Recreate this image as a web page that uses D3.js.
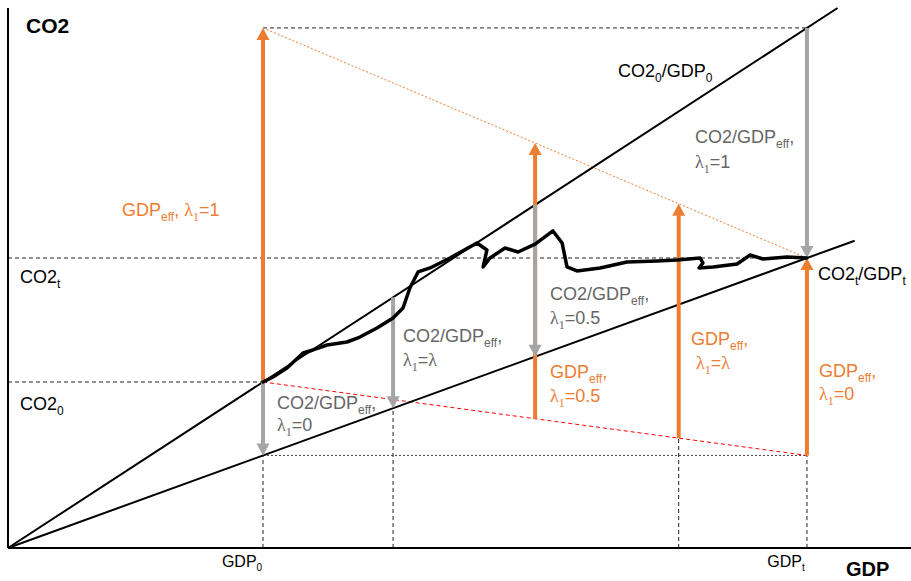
<!DOCTYPE html>
<html>
<head>
<meta charset="utf-8">
<script src="https://cdn.jsdelivr.net/npm/d3@7"></script>
<style>
  html, body { margin: 0; padding: 0; background: #fff; }
  svg { display: block; font-family: "Liberation Sans", Arial, sans-serif; }
</style>
</head>
<body>
<svg id="chart" width="911" height="581"></svg>
<script>
// ---------------- data ----------------
// GDP and CO2 in units of the base year (GDP0 = 1, CO2_0 = 1)
const gdpTickLabels = ["GDP0", "GDPt"];
const gdpTicks = [1.0, 3.133];          // GDP0, GDPt
const co2Ticks = [1.0, 1.747];          // CO2_0, CO2_t
const grayArrowGdp = [1.0, 1.51, 2.067, 3.133];   // CO2/GDP_eff arrows
const orangeArrowGdp = [1.0, 2.067, 2.63, 3.133]; // GDP_eff arrows
// observed emission path (GDP, CO2)
const pathGdp = [1.0, 1.039, 1.094, 1.157, 1.196, 1.251, 1.329, 1.380, 1.447, 1.510, 1.549, 1.576, 1.608, 1.655, 1.733, 1.839, 1.878, 1.863, 1.890, 1.949, 2.000, 2.067, 2.137, 2.173, 2.192, 2.231, 2.322, 2.427, 2.545, 2.624, 2.714, 2.725, 2.710, 2.765, 2.859, 2.910, 2.961, 3.055, 3.133];
const pathCo2 = [1.0, 1.030, 1.084, 1.175, 1.193, 1.223, 1.241, 1.271, 1.325, 1.386, 1.446, 1.566, 1.663, 1.687, 1.747, 1.837, 1.795, 1.693, 1.747, 1.807, 1.783, 1.831, 1.910, 1.837, 1.693, 1.669, 1.687, 1.723, 1.729, 1.735, 1.747, 1.717, 1.687, 1.693, 1.711, 1.765, 1.741, 1.753, 1.747];

// ---------------- setup ----------------
const svg = d3.select("#chart");
const x = d3.scaleLinear().domain([0, 3.541]).range([8, 911]);
const y = d3.scaleLinear().domain([0, 3.253]).range([548, 8]);

const ORANGE = "#ED7D31", GRAY = "#A5A5A5", GTEXT = "#666666", RED = "#FF0000";

const [g0, gt] = gdpTicks;
const [c0, ct] = co2Ticks;
const i0 = c0 / g0;      // initial intensity
const it = ct / gt;      // final intensity
const upper = g => i0 * g;
const lower = g => it * g;
const tOf = g => (g - g0) / (gt - g0);
const redLine = g => c0 + (lower(g0) - c0) * tOf(g);
const orangeLine = g => upper(gt) + (ct - upper(gt)) * tOf(g);

const line = d3.line().x(d => x(d[0])).y(d => y(d[1]));

function seg(p1, p2, stroke, width, dash) {
  svg.append("path").attr("d", line([p1, p2]))
    .attr("stroke", stroke).attr("stroke-width", width).attr("fill", "none")
    .attr("stroke-dasharray", dash || null);
}

// ---------------- guide lines ----------------
const yMax = y.domain()[1];
const DASH = "#222";
seg([0, ct], [gt, ct], DASH, 1, "4,3");
seg([0, c0], [g0, c0], DASH, 1, "4,3");
seg([g0, upper(gt)], [gt, upper(gt)], DASH, 1, "4,3");
seg([g0, lower(g0)], [gt, lower(g0)], "#444", 1, "2,2");
seg([g0, 0], [g0, lower(g0)], DASH, 1, "4,3");
seg([grayArrowGdp[1], 0], [grayArrowGdp[1], lower(grayArrowGdp[1])], DASH, 1, "4,3");
seg([orangeArrowGdp[2], 0], [orangeArrowGdp[2], redLine(orangeArrowGdp[2])], DASH, 1, "4,3");
seg([gt, 0], [gt, lower(g0)], DASH, 1, "4,3");

// interpolation lines
seg([g0, upper(gt)], [gt, ct], ORANGE, 1, "2,2");
seg([g0, c0], [gt, lower(g0)], RED, 1, "4,3");

// intensity rays
seg([0, 0], [yMax / i0, yMax], "#000", 2);
seg([0, 0], [3.32, lower(3.32)], "#000", 2);

// ---------------- arrows ----------------
function arrow(g, fromC, toC, color) {
  const x0 = x(g), y0 = y(fromC), y1 = y(toC);
  const dir = y1 < y0 ? -1 : 1;
  const head = 12, hw = 6.5;
  svg.append("line").attr("x1", x0).attr("x2", x0)
    .attr("y1", y0).attr("y2", y1 - dir * head + dir * 1)
    .attr("stroke", color).attr("stroke-width", 4);
  svg.append("path")
    .attr("d", `M${x0},${y1} L${x0 - hw},${y1 - dir * head} L${x0 + hw},${y1 - dir * head} Z`)
    .attr("fill", color);
}
orangeArrowGdp.forEach(g => {
  const from = (g === g0) ? c0 : (g === gt ? lower(g0) : redLine(g));
  const to = (g === gt) ? ct : orangeLine(g);
  arrow(g, from, to, ORANGE);
});
grayArrowGdp.forEach(g => arrow(g, upper(g), lower(g), GRAY));

// ---------------- observed path ----------------
svg.append("path")
  .attr("d", line(pathGdp.map((g, i) => [g, pathCo2[i]])))
  .attr("stroke", "#000").attr("stroke-width", 3.5).attr("fill", "none")
  .attr("stroke-linejoin", "round").attr("stroke-linecap", "round");

// ---------------- axes ----------------
svg.append("line").attr("x1", x(0)).attr("x2", x(0)).attr("y1", y(yMax)).attr("y2", y(0))
  .attr("stroke", "#000").attr("stroke-width", 2);
svg.append("line").attr("x1", x(0)).attr("x2", 911).attr("y1", y(0)).attr("y2", y(0))
  .attr("stroke", "#000").attr("stroke-width", 2);

// ---------------- text ----------------
function rich(px, py, parts, color, size) {
  const t = svg.append("text").attr("x", px).attr("y", py)
    .attr("fill", color).attr("font-size", size);
  let shift = 0;
  parts.forEach(p => {
    const s = t.append("tspan").text(p.t);
    const want = p.sub ? Math.round(size * 0.25) : 0;
    if (want !== shift) { s.attr("dy", want - shift); shift = want; }
    if (p.sub) s.attr("font-size", Math.round(size * 0.65));
    if (p.serif) s.attr("font-family", "'Liberation Serif', 'DejaVu Serif', serif");
  });
  return t;
}
const SUB = s => ({ t: s, sub: true });
const lam = (val) => [{ t: "λ", serif: true }, { t: "1", sub: true, serif: true }, val === "λ" ? { t: "=" } : { t: "=" + val }].concat(val === "λ" ? [{ t: "λ", serif: true }] : []);
const effCO2 = [{ t: "CO2/GDP" }, SUB("eff"), { t: "," }];
const effGDP = [{ t: "GDP" }, SUB("eff"), { t: "," }];

svg.append("text").attr("x", 26).attr("y", 33).attr("font-size", 21).attr("font-weight", "bold").text("CO2");
svg.append("text").attr("x", 846).attr("y", 576).attr("font-size", 20).attr("font-weight", "bold").text("GDP");

gdpTicks.forEach((g, i) => {
  const lbl = gdpTickLabels[i];
  rich(x(g) - 21, 567, [{ t: lbl.slice(0, 3) }, SUB(lbl.slice(3))], "#000", 16)
    .attr("text-anchor", "middle");
});
rich(20, 283, [{ t: "CO2" }, SUB("t")], "#000", 18);
rich(20, 410, [{ t: "CO2" }, SUB("0")], "#000", 18);
rich(618, 77, [{ t: "CO2" }, SUB("0"), { t: "/GDP" }, SUB("0")], "#000", 18);
rich(818, 280, [{ t: "CO2" }, SUB("t"), { t: "/GDP" }, SUB("t")], "#000", 18);

rich(695, 143, effCO2, GTEXT, 18); rich(695, 168, lam("1"), GTEXT, 18);
rich(550, 300, effCO2, GTEXT, 18); rich(550, 324, lam("0.5"), GTEXT, 18);
rich(403, 342, effCO2, GTEXT, 18); rich(403, 366, lam("λ"), GTEXT, 18);
rich(277, 409, effCO2, GTEXT, 18); rich(277, 431, lam("0"), GTEXT, 18);

rich(122, 216, effGDP.concat([{ t: " " }]).concat(lam("1")), ORANGE, 18);
rich(550, 378, effGDP, ORANGE, 18); rich(550, 402, lam("0.5"), ORANGE, 18);
rich(691, 345, effGDP, ORANGE, 18); rich(696, 369, lam("λ"), ORANGE, 18);
rich(819, 377, effGDP, ORANGE, 18); rich(819, 400, lam("0"), ORANGE, 18);
</script>
</body>
</html>
